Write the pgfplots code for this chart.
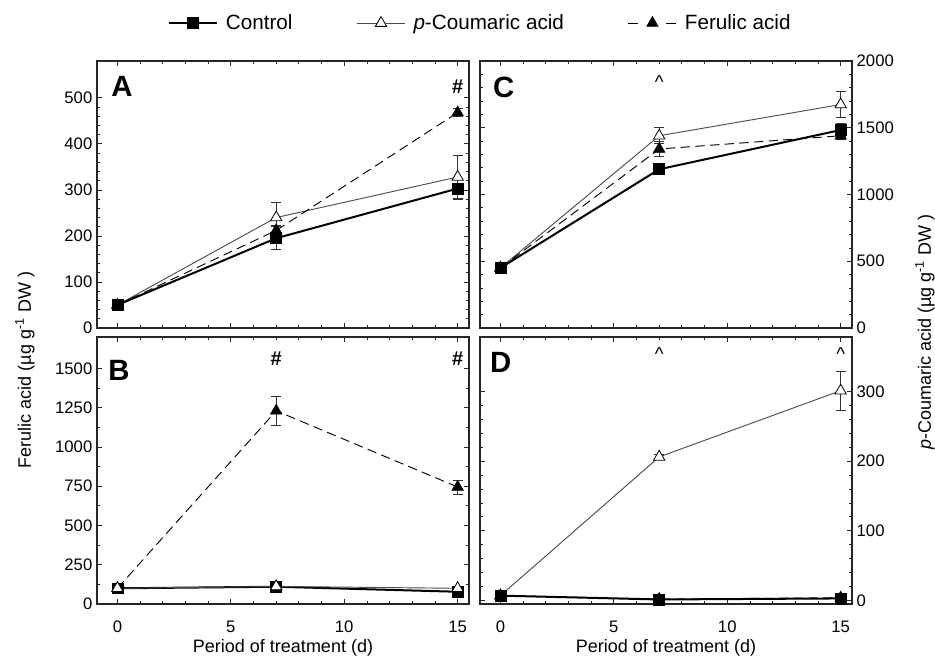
\documentclass[border=0pt]{standalone}
\usepackage{fontspec}
\setmainfont{Liberation Sans}
\usepackage{pgfplots}
\pgfplotsset{compat=1.18}

\pgfplotsset{
  panel/.style={
    scale only axis, width=279pt, height=200.25pt, anchor=south west,
    xmin=-0.9, xmax=15.5, xtick={0,5,10,15}, minor x tick num=4,
    axis line style={line width=1pt, black!85},
    major tick length=4pt, minor tick length=2.5pt,
    tick style={line width=0.6pt, black!85},
    tick label style={font=\fontsize{12.5}{14}\selectfont},
    /pgf/number format/assume math mode=true,
    /pgf/number format/1000 sep={},
    xticklabel style={yshift=-9pt},
    clip=false,
  },
  ctrl/.style={black, line width=1.5pt, mark=square*, mark size=4.1pt,
    mark options={solid, fill=black, line width=0.5pt}},
  cou/.style={black!70, line width=0.7pt, mark=triangle*, mark size=4.9pt,
    mark options={solid, draw=black, fill=white, line width=0.6pt}},
  fer/.style={black, line width=0.7pt, dash pattern=on 7pt off 4pt, mark=triangle*,
    mark size=4.9pt, mark options={solid, fill=black, line width=0.5pt}},
  ebar/.style={error bars/y dir=both, error bars/y explicit,
    error bars/error mark options={rotate=90, mark size=3.75pt, line width=0.6pt, black!80},
    error bars/error bar style={solid, line width=0.6pt, black!80}},
}
\tikzset{
  letter/.style={font=\fontsize{22}{24}\selectfont\bfseries, anchor=center},
  sig/.style={font=\fontsize{15}{16}\selectfont\bfseries, anchor=center},
}

\begin{document}
\begin{tikzpicture}
\path[use as bounding box] (0,0) rectangle (701.25pt,-493.5pt);

% A: ferulic acid content, top left
\begin{axis}[panel, at={(72.75pt,-246pt)},
  ymin=0, ymax=580, ytick={0,100,...,500}, minor y tick num=4,
  xticklabels={},
  legend columns=3,
  legend image code/.code={\draw[mark repeat=2,mark phase=2,#1] plot coordinates {(0pt,0pt) (18pt,0pt) (36pt,0pt)};},
  legend style={draw=none, fill=none, at={(rel axis cs:0.19,1.142)}, anchor=west,
    inner sep=0pt, font=\fontsize{15.5}{18}\selectfont,
    /tikz/every odd column/.append style={column sep=4pt},
    /tikz/every even column/.append style={column sep=46pt}},
  legend cell align=left]
\addlegendimage{ctrl}
\addlegendentry{Control}
\addlegendimage{cou}
\addlegendentry{\textit{p}-Coumaric acid}
\addlegendimage{fer, dash pattern=on 7.5pt off 21pt}
\addlegendentry{Ferulic acid}
\addplot[cou, ebar, forget plot] coordinates {(0,50) +- (0,0) (7,240) +- (0,32) (15,328) +- (0,46)};
\addplot[fer, ebar, forget plot] coordinates {(0,50) +- (0,0) (7,212) +- (0,10) (15,468) +- (0,8)};
\addplot[ctrl, ebar, forget plot] coordinates {(0,50) +- (0,0) (7,195) +- (0,25) (15,303) +- (0,23)};
\node[letter] at (rel axis cs:0.067,0.906) {A};
\node[sig] at (axis cs:15,524) {\#};
\end{axis}

% B: ferulic acid, bottom left
\begin{axis}[panel, at={(72.75pt,-453pt)},
  ymin=0, ymax=1700, ytick={0,250,...,1500}, minor y tick num=1]
\addplot[fer, ebar] coordinates {(0,100) +- (0,0) (7,1230) +- (0,95) (15,745) +- (0,45)};
\addplot[ctrl, ebar] coordinates {(0,100) +- (0,0) (7,110) +- (0,8) (15,78) +- (0,6)};
\addplot[cou, ebar] coordinates {(0,100) +- (0,0) (7,112) +- (0,8) (15,100) +- (0,6)};
\node[letter] at (rel axis cs:0.059,0.876) {B};
\node[sig] at (axis cs:7,1561) {\#};
\node[sig] at (axis cs:15,1561) {\#};
\end{axis}

% C: p-coumaric acid, top right
\begin{axis}[panel, at={(360pt,-246pt)},
  ymin=0, ymax=2000, ytick={0,500,...,2000}, minor y tick num=4,
  yticklabel pos=right, xticklabels={}]
\addplot[cou, ebar] coordinates {(0,450) +- (0,0) (7,1440) +- (0,60) (15,1674) +- (0,100)};
\addplot[fer, ebar] coordinates {(0,450) +- (0,0) (7,1341) +- (0,55) (15,1440) +- (0,30)};
\addplot[ctrl, ebar] coordinates {(0,450) +- (0,0) (7,1189) +- (0,15) (15,1483) +- (0,50)};
\node[letter] at (rel axis cs:0.064,0.903) {C};
\node[sig, font=\fontsize{14}{16}\selectfont] at (axis cs:7,1844) {\textasciicircum};
\end{axis}

% D: p-coumaric acid, bottom right
\begin{axis}[panel, at={(360pt,-453pt)},
  ymin=-5, ymax=378, ytick={0,100,200,300}, minor y tick num=4,
  yticklabel pos=right]
\addplot[cou, ebar] coordinates {(0,7) +- (0,0) (7,206) +- (0,3) (15,301) +- (0,28)};
\addplot[fer, ebar] coordinates {(0,7) +- (0,0) (7,2) +- (0,1) (15,4) +- (0,3)};
\addplot[ctrl, ebar] coordinates {(0,7) +- (0,0) (7,1.5) +- (0,1) (15,3) +- (0,4)};
\node[letter] at (rel axis cs:0.056,0.906) {D};
\node[sig, font=\fontsize{14}{16}\selectfont] at (axis cs:7,353) {\textasciicircum};
\node[sig, font=\fontsize{14}{16}\selectfont] at (axis cs:15,353) {\textasciicircum};
\end{axis}

\node[rotate=90, font=\fontsize{13.5}{16}\selectfont] at (18.75pt,-277.5pt) {Ferulic acid (µg g\textsuperscript{-1} DW )};
\node[rotate=90, font=\fontsize{13.5}{16}\selectfont] at (693.75pt,-249pt) {\textit{p}-Coumaric acid (µg g\textsuperscript{-1} DW )};
\node[font=\fontsize{13.5}{16}\selectfont] at (212.25pt,-486pt) {Period of treatment (d)};
\node[font=\fontsize{13.5}{16}\selectfont] at (499.5pt,-486pt) {Period of treatment (d)};
\end{tikzpicture}
\end{document}
